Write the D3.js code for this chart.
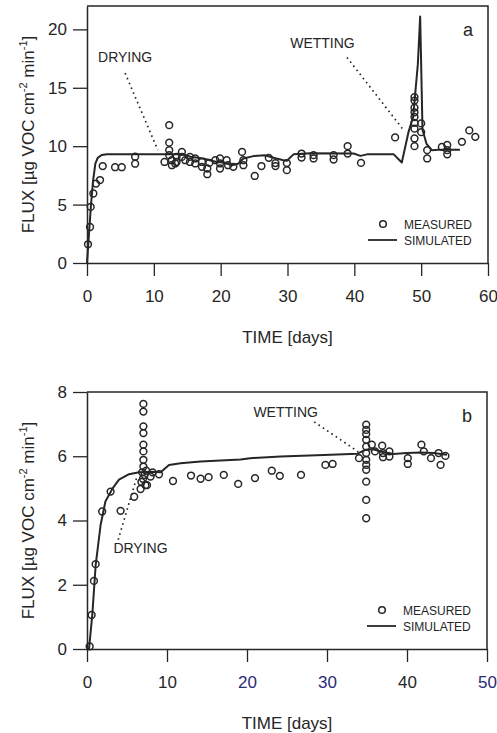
<!DOCTYPE html>
<html>
<head>
<meta charset="utf-8">
<script src="https://cdn.jsdelivr.net/npm/d3@7"></script>
<style>
  html, body { margin: 0; padding: 0; background: #ffffff; }
  svg { display: block; font-family: "Liberation Sans", Arial, Helvetica, sans-serif; }
</style>
</head>
<body>
<svg id="chart" width="497" height="733"></svg>
<script>
// ---- Panel a: VOC flux over 60 days ----
const simA = [[0,0],[0.3,2.5],[0.6,5.0],[0.9,7.0],[1.25,8.5],[1.6,9.0],[2.2,9.25],[3,9.3],[6,9.3],[10,9.3],[12.4,9.3],
  [14.4,9.3],[15.5,9.1],[17.4,8.95],[19.4,8.65],[20.5,8.6],[21.7,8.37],[22.6,8.5],[23.4,8.95],[24.9,9.15],[26.6,9.23],
  [28.2,8.97],[29.4,8.8],[29.9,8.75],[30.9,9.3],[33.4,9.4],[39.9,9.37],[40.9,9.17],[41.9,9.3],[45.9,9.3],[47.1,8.6],
  [48.1,11.2],[48.8,12.5],[49.5,17.0],[49.85,21.1],[50.0,17.0],[50.2,11.4],[50.8,10.2],[51.6,9.66],[52.6,9.7],[55.8,9.7]];
const measA = [[0.15,1.6],[0.45,3.08],[0.55,4.8],[0.95,5.95],[1.35,6.8],[1.95,7.1],[2.35,8.3],[4.2,8.2],[5.2,8.2],
  [7.2,9.1],[7.2,8.5],
  [12.3,11.8],[12.3,10.3],[12.3,9.66],[12.3,9.23],[11.6,8.65],[12.7,8.8],[12.7,8.37],[13.4,9.08],[13.4,8.65],
  [14.2,9.51],[14.2,9.08],[13.2,8.52],[14.7,8.8],[15.4,9.08],[15.4,8.65],[16.2,8.95],[16.2,8.52],[17.2,8.65],
  [17.2,8.23],[18.0,8.09],[18.0,7.6],[18.3,8.57],[19.2,8.8],[19.9,8.95],[19.9,8.52],[19.9,8.09],[20.9,8.8],
  [21.1,8.37],[21.9,8.23],[23.2,9.51],[23.4,8.8],[23.4,8.37],[25.1,7.45],[26.1,8.3],[27.2,9.0],[28.2,8.55],
  [28.2,8.3],[29.9,8.55],[29.9,7.95],
  [32.1,9.37],[32.1,9.03],[33.9,9.23],[33.9,8.95],[36.9,9.23],[36.9,8.86],[39.0,10.0],[39.0,9.37],[41.0,8.57],
  [46.1,10.75],
  [49.0,14.2],[49.0,13.9],[49.0,13.3],[49.0,12.9],[49.0,12.5],[49.0,12.0],[49.0,11.5],[49.0,10.66],[49.0,10.0],
  [50.0,11.95],[50.0,11.2],[50.9,9.66],[50.9,8.95],[53.1,9.94],[53.9,10.1],[53.9,9.66],[53.9,9.3],
  [56.1,10.37],[57.2,11.35],[58.1,10.8]];
const xTicksA = [0,10,20,30,40,50,60];
const yTicksA = [0,5,10,15,20];

// ---- Panel b: VOC flux over 50 days ----
const simB = [[0.25,0],[0.66,1.06],[1.08,2.6],[1.7,3.86],[2.3,4.59],[3.2,5.0],[4.0,5.27],[5.25,5.44],[6.5,5.5],
  [7.95,5.52],[9.2,5.5],[10.25,5.73],[11.7,5.78],[14.2,5.84],[19.2,5.9],[20.4,5.94],[24.2,5.99],[29.6,6.04],
  [33.8,6.08],[34.8,6.2],[35.8,6.22],[36.7,6.15],[38.3,6.07],[40,6.1],[41.7,6.12],[43.3,6.1],[45,6.05]];
const measB = [[0.33,0.08],[0.58,1.06],[0.87,2.12],[1.08,2.64],[1.9,4.28],[2.95,4.9],[4.2,4.3],[5.9,4.74],
  [6.7,4.98],[7.3,5.1],[7.05,7.63],[7.05,7.39],[7.05,6.93],[7.05,6.72],[7.05,6.36],[7.05,6.15],[7.05,5.89],
  [7.05,5.68],[6.9,5.5],[7.2,5.42],[7.0,5.3],[7.4,5.55],[6.8,5.2],[7.95,5.37],[8.2,5.5],[7.5,5.1],[9.0,5.44],
  [10.75,5.23],[13.0,5.4],[14.2,5.3],[15.2,5.35],[17.1,5.42],[18.9,5.14],[21.0,5.32],[23.1,5.55],[24.1,5.39],
  [26.75,5.42],[29.8,5.73],[30.7,5.76],
  [34.9,6.98],[34.9,6.82],[34.9,6.69],[34.9,6.51],[34.9,6.3],[34.9,6.1],[34.9,5.89],[34.9,5.73],[34.9,5.58],
  [34.9,5.21],[34.9,4.64],[34.9,4.07],[34.0,5.94],[35.6,6.36],[36.0,6.15],[36.9,6.33],[37.0,6.1],[37.0,5.97],
  [37.8,6.15],[37.8,5.99],[40.1,5.94],[40.1,5.76],[41.8,6.36],[42.1,6.15],[43.0,5.94],[43.95,6.1],[44.2,5.73],
  [44.8,6.01]];
const xTicksB = [0,10,20,30,40,50];
const yTicksB = [0,2,4,6,8];

const INK = "#262626";
const svg = d3.select("#chart");

function panel(cfg) {
  const x = d3.scaleLinear().domain(cfg.xDomain).range([cfg.left, cfg.right]);
  const y = d3.scaleLinear().domain(cfg.yDomain).range([cfg.bottom, cfg.top]);
  const g = svg.append("g");

  // frame: top and right edges
  g.append("path")
    .attr("d", `M${cfg.left},${cfg.top}H${cfg.right}V${cfg.bottom}`)
    .attr("fill", "none").attr("stroke", INK).attr("stroke-width", 1.5);

  // axes with long outward ticks
  const xAxis = g.append("g").attr("transform", `translate(0,${cfg.bottom})`)
    .call(d3.axisBottom(x).tickValues(cfg.xTicks).tickSize(13).tickSizeOuter(0).tickPadding(14));
  const yAxis = g.append("g").attr("transform", `translate(${cfg.left},0)`)
    .call(d3.axisLeft(y).tickValues(cfg.yTicks).tickSize(14).tickSizeOuter(0).tickPadding(6));
  [xAxis, yAxis].forEach(a => {
    a.select(".domain").attr("stroke", INK).attr("stroke-width", 1.5);
    a.selectAll(".tick line").attr("stroke", INK).attr("stroke-width", 1.3);
    a.selectAll(".tick text").attr("fill", INK).style("font-size", "17px")
      .style("font-family", "'Liberation Sans', Arial, sans-serif");
  });
  if (cfg.tickColor) xAxis.selectAll(".tick text").attr("fill", d => cfg.tickColor(d));

  // annotation leaders
  cfg.notes.forEach(n => {
    g.append("line")
      .attr("x1", x(n.from[0])).attr("y1", y(n.from[1]))
      .attr("x2", x(n.to[0])).attr("y2", y(n.to[1]))
      .attr("stroke", INK).attr("stroke-width", 1.7).attr("stroke-dasharray", "1.6,3.6");
    g.append("text").attr("x", x(n.at[0])).attr("y", y(n.at[1]))
      .attr("fill", INK).style("font-size", "14px").text(n.label);
  });

  // simulated curve
  g.append("path").datum(cfg.sim)
    .attr("d", d3.line().x(d => x(d[0])).y(d => y(d[1])))
    .attr("fill", "none").attr("stroke", INK).attr("stroke-width", 2)
    .attr("stroke-linejoin", "round");

  // measured points
  g.append("g").selectAll("circle").data(cfg.meas).join("circle")
    .attr("cx", d => x(d[0])).attr("cy", d => y(d[1])).attr("r", 3.4)
    .attr("fill", "none").attr("stroke", INK).attr("stroke-width", 1.5);

  // panel letter
  g.append("text").attr("x", cfg.right - 20).attr("y", cfg.top + 30)
    .attr("text-anchor", "middle").attr("fill", INK).style("font-size", "18px").text(cfg.letter);

  // legend
  const lx = cfg.right - 120, ly = cfg.bottom - 39;
  g.append("circle").attr("cx", lx + 15).attr("cy", ly).attr("r", 3.3)
    .attr("fill", "none").attr("stroke", INK).attr("stroke-width", 1.5);
  g.append("text").attr("x", lx + 36).attr("y", ly + 4.5).attr("fill", INK)
    .style("font-size", "12px").text("MEASURED");
  g.append("line").attr("x1", lx).attr("x2", lx + 29).attr("y1", ly + 16).attr("y2", ly + 16)
    .attr("stroke", INK).attr("stroke-width", 1.8);
  g.append("text").attr("x", lx + 36).attr("y", ly + 20.5).attr("fill", INK)
    .style("font-size", "12px").text("SIMULATED");

  // axis titles
  g.append("text").attr("x", (cfg.left + cfg.right) / 2).attr("y", cfg.bottom + 80)
    .attr("text-anchor", "middle").attr("fill", INK).style("font-size", "17px").text("TIME [days]");
  const yt = g.append("text")
    .attr("transform", `translate(34,${(cfg.top + cfg.bottom) / 2}) rotate(-90)`)
    .attr("text-anchor", "middle").attr("fill", INK).style("font-size", "17px");
  yt.append("tspan").text("FLUX [µg VOC cm");
  yt.append("tspan").attr("dy", -7).style("font-size", "11px").text("-2");
  yt.append("tspan").attr("dy", 7).text(" min");
  yt.append("tspan").attr("dy", -7).style("font-size", "11px").text("-1");
  yt.append("tspan").attr("dy", 7).text("]");
}

panel({
  xDomain: [0, 60], yDomain: [0, 22], left: 87, right: 488, top: 6, bottom: 263,
  xTicks: xTicksA, yTicks: yTicksA, sim: simA, meas: measA, letter: "a",
  notes: [
    { label: "DRYING", at: [1.65, 17.2], from: [5.7, 16.25], to: [10.6, 9.66] },
    { label: "WETTING", at: [30.4, 18.4], from: [38.9, 17.6], to: [47.2, 11.5] }
  ]
});

panel({
  xDomain: [0, 50], yDomain: [0, 8], left: 87, right: 487, top: 392, bottom: 649,
  xTicks: xTicksB, yTicks: yTicksB, sim: simB, meas: measB, letter: "b",
  tickColor: d => (d === 20 || d === 30 || d === 50) ? "#2b2b78" : INK,
  notes: [
    { label: "WETTING", at: [20.8, 7.22], from: [28.4, 7.07], to: [33.9, 6.14] },
    { label: "DRYING", at: [3.3, 2.98], from: [3.9, 3.4], to: [6.2, 5.33] }
  ]
});
</script>
</body>
</html>
